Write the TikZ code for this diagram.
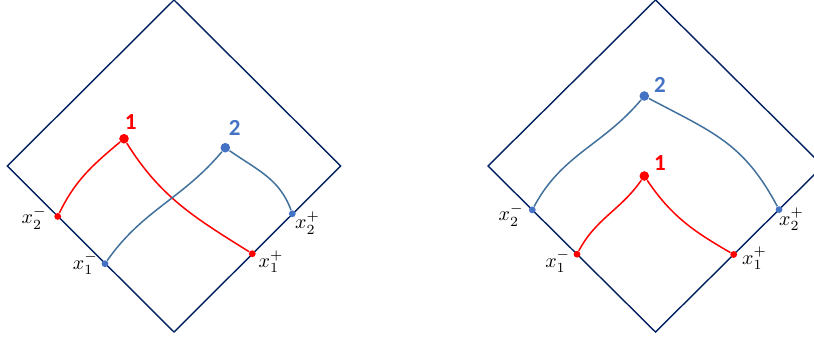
\documentclass[tikz,border=0pt]{standalone}
\usepackage{fontspec}
\newfontfamily\calib{Carlito}
\usepackage{tikz}
\usetikzlibrary{positioning}
\definecolor{diamcol}{RGB}{0,32,96}
\definecolor{redcol}{RGB}{255,0,0}
\definecolor{bluecol}{RGB}{68,114,196}
\definecolor{wlcol}{RGB}{65,113,156}

\begin{document}
\begin{tikzpicture}[x=0.5pt, y=0.5pt,
  diam/.style={draw=diamcol, line width=0.7pt, line join=miter},
  wl/.style={draw=#1, line width=0.75pt},
  ept/.style={circle, fill=#1, inner sep=0pt, minimum size=3.4pt},
  pk/.style={circle, fill=#1, inner sep=0pt, minimum size=4.8pt},
  lb/.style={font=\fontsize{10}{12}\selectfont, inner sep=0.5pt},
  num/.style={font=\calib\bfseries\fontsize{11.5}{13}\selectfont, text=#1, inner sep=0pt}
]
\useasboundingbox (0,0) rectangle (814,339);
\clip (0,0) rectangle (814,339);

% the two diamonds
\draw[diam] (174,339) -- (340.7,173) -- (174,7) -- (7.3,173) -- cycle;
\draw[diam] (655.5,339) -- (823,173) -- (655.5,7) -- (488,173) -- cycle;

% left: end points and peaks
\node[ept=redcol]  (lm2)  at (57.7,122.6) {};
\node[ept=bluecol] (lm1)  at (105,75.3) {};
\node[ept=redcol]  (lp1)  at (252.3,85.3) {};
\node[ept=bluecol] (lp2)  at (292.3,125.3) {};
\node[pk=redcol]   (lpk1) at (124,200.3) {};
\node[pk=bluecol]  (lpk2) at (225.3,191.3) {};

% right: end points and peaks
\node[ept=bluecol] (rm2)  at (532.3,129.1) {};
\node[ept=redcol]  (rm1)  at (577,84.8) {};
\node[ept=redcol]  (rp1)  at (733.7,84.5) {};
\node[ept=bluecol] (rp2)  at (779,129.4) {};
\node[pk=redcol]   (rpk1) at (644.3,163) {};
\node[pk=bluecol]  (rpk2) at (644.3,243) {};

% world lines
\draw[wl=redcol] (lm2) to[out=64, in=-140] (lpk1) to[out=-58, in=148] (lp1);
\draw[wl=wlcol]  (lm1) to[out=55, in=-130] (lpk2) to[out=-35, in=110] (lp2);
\draw[wl=redcol] (rm1) to[out=62, in=-125] (rpk1) to[out=-56, in=150] (rp1);
\draw[wl=wlcol]  (rm2) to[out=62, in=-130] (rpk2) to[out=-28, in=118, looseness=1.1] (rp2);

% labels
\node[lb, left=3pt of lm2, yshift=-0.8pt]   {$x_2^-$};
\node[lb, left=1pt of lm1, yshift=0.3pt]    {$x_1^-$};
\node[lb, right=0.6pt of lp1, yshift=-4pt]  {$x_1^+$};
\node[lb, right=-1.2pt of lp2, yshift=-4.6pt] {$x_2^+$};
\node[lb, left=1.8pt of rm2, yshift=-2.5pt] {$x_2^-$};
\node[lb, left=0.8pt of rm1, yshift=-3.5pt] {$x_1^-$};
\node[lb, right=1.6pt of rp1, yshift=-1.8pt] {$x_1^+$};
\node[lb, right=-2.5pt of rp2, yshift=-4.8pt] {$x_2^+$};

\node[num=redcol,  above=2pt of lpk1, xshift=3.3pt]   {1};
\node[num=bluecol, above=3.2pt of lpk2, xshift=4.7pt] {2};
\node[num=redcol,  above=0pt of rpk1, xshift=7.8pt]   {1};
\node[num=bluecol, above=-1pt of rpk2, xshift=7.8pt]  {2};

\end{tikzpicture}
\end{document}
